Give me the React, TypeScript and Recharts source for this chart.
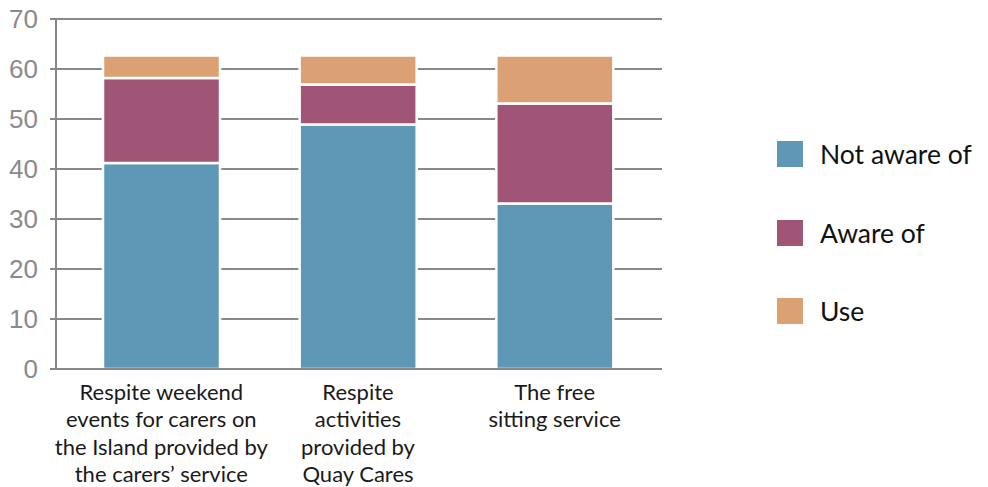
import React from "react";
import { BarChart, Bar, XAxis, YAxis, CartesianGrid, Legend } from "recharts";

const categories = [
  "Respite weekend|events for carers on|the Island provided by|the carers\u2019 service",
  "Respite|activities|provided by|Quay Cares",
  "The free|sitting service",
];
const notAwareOf = [41.2, 48.9, 33.1];
const awareOf = [17, 8, 20];
const useValues = [4.5, 5.8, 9.6];
const yTicks = [0, 10, 20, 30, 40, 50, 60, 70];

const seriesNames = ["Not aware of", "Aware of", "Use"];
const seriesKeys = ["notAware", "aware", "use"];
const seriesColors = ["#5e98b6", "#a05577", "#dba073"];

const data = categories.map((c, i) => ({
  name: c,
  notAware: notAwareOf[i],
  aware: awareOf[i],
  use: useValues[i],
}));

const GRAY = "#88888c";
const LEGEND_W = 211;

const CategoryTick = (props: any) => {
  const { x, y, payload } = props;
  const lines = String(payload.value).split("|");
  return (
    <text
      x={x}
      y={y}
      textAnchor="middle"
      fill="#1a1a1a"
      style={{ fontFamily: "Lato, 'Noto Sans', sans-serif", fontSize: 22 }}
    >
      {lines.map((l, i) => (
        <tspan key={i} x={x} y={y + 31 + i * 27.3}>
          {l}
        </tspan>
      ))}
    </text>
  );
};

const LegendContent = () => (
  <div style={{ fontFamily: "Lato, 'Noto Sans', sans-serif" }}>
    {seriesNames.map((n, i) => (
      <div
        key={n}
        style={{
          display: "flex",
          alignItems: "center",
          height: 26,
          marginBottom: i < 2 ? 52.5 : 0,
        }}
      >
        <div
          style={{
            width: 26,
            height: 26,
            background: seriesColors[i],
            marginRight: 17,
            flex: "none",
          }}
        />
        <span style={{ fontSize: 26.5, color: "#111", lineHeight: "26px", whiteSpace: "nowrap" }}>{n}</span>
      </div>
    ))}
  </div>
);

export default function App() {
  return (
    <div style={{ width: 988, height: 487 }}>
      <style>{`body{margin:0;background:#fff}`}</style>
      <BarChart
        width={988}
        height={487}
        data={data}
        margin={{ top: 19, right: 326 - LEGEND_W, left: 0, bottom: 0 }}
        barCategoryGap={0}
      >
        <CartesianGrid
          horizontal={true}
          vertical={false}
          stroke={GRAY}
          strokeWidth={2}
        />
        <XAxis
          dataKey="name"
          height={118}
          interval={0}
          tickLine={false}
          tickSize={0}
          tickMargin={0}
          padding={{ left: 7, right: 9 }}
          axisLine={{ stroke: GRAY, strokeWidth: 2 }}
          tick={<CategoryTick />}
        />
        <YAxis
          width={56}
          domain={[0, 70]}
          ticks={yTicks}
          interval={0}
          tickSize={6}
          tickMargin={12}
          axisLine={{ stroke: GRAY, strokeWidth: 2 }}
          tickLine={{ stroke: GRAY, strokeWidth: 2 }}
          tick={{
            fill: "#8a8a8e",
            fontSize: 26,
            fontFamily: "'Liberation Sans', Arial, sans-serif",
          }}
        />
        <Legend
          layout="horizontal"
          verticalAlign="middle"
          align="right"
          content={<LegendContent />}
          wrapperStyle={{ position: "absolute", left: 777, top: 141, width: LEGEND_W, height: 190 }}
        />
        {seriesKeys.map((k, i) => (
          <Bar
            key={k}
            dataKey={k}
            name={seriesNames[i]}
            stackId="a"
            fill={seriesColors[i]}
            stroke="#ffffff"
            strokeWidth={2.5}
            barSize={117}
            isAnimationActive={false}
          />
        ))}
      </BarChart>
    </div>
  );
}
